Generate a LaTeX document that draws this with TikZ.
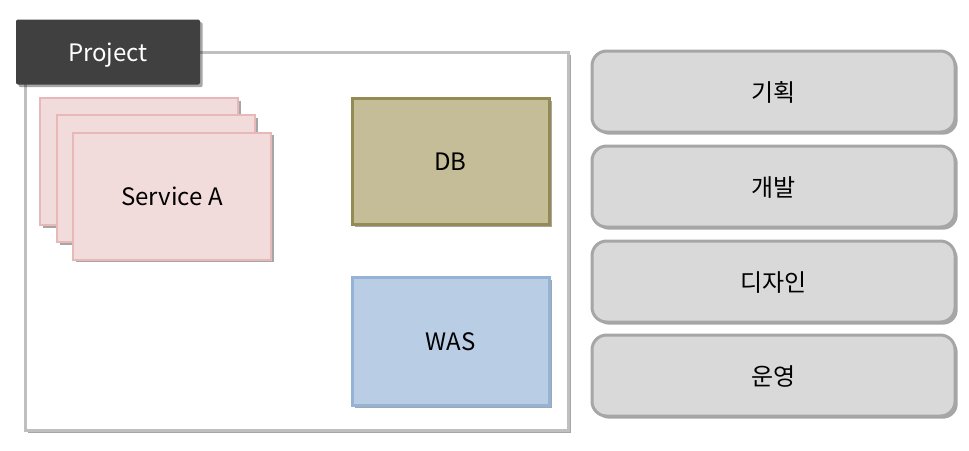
\documentclass[tikz,border=0pt]{standalone}
\usepackage{fontspec}
\setmainfont{Noto Sans CJK KR}
\usepackage{xcolor}
\definecolor{frameGray}{HTML}{BFBFBF}
\definecolor{tagDark}{HTML}{404040}
\definecolor{svcFill}{HTML}{F2DCDB}
\definecolor{svcLine}{HTML}{E6B9B8}
\definecolor{dbFill}{HTML}{C4BD97}
\definecolor{dbLine}{HTML}{948A54}
\definecolor{wasFill}{HTML}{B9CDE5}
\definecolor{wasLine}{HTML}{95B3D7}
\definecolor{roleFill}{HTML}{D9D9D9}
\definecolor{roleLine}{HTML}{A6A6A6}
\usetikzlibrary{shadows}

\tikzset{
  shade/.style={drop shadow={shadow xshift=2pt, shadow yshift=-2pt, opacity=0.35, fill=black}},
  box/.style={rectangle, inner sep=0pt, text depth=0pt, font=\fontsize{18}{20}\selectfont},
  projframe/.style={box, draw=frameGray, line width=2.25pt, fill=white, shade,
    minimum width=543*0.75pt, minimum height=378*0.75pt},
  projtag/.style={box, fill=tagDark, text=white, rounded corners=1.5pt, shade,
    minimum width=184*0.75pt, minimum height=65*0.75pt},
  svcbox/.style={box, draw=svcLine, fill=svcFill, line width=1.5pt, shade,
    minimum width=198*0.75pt, minimum height=127*0.75pt},
  dbbox/.style={box, draw=dbLine, fill=dbFill, line width=2.25pt, shade,
    minimum width=197*0.75pt, minimum height=126*0.75pt},
  wasbox/.style={box, draw=wasLine, fill=wasFill, line width=2.25pt, shade,
    minimum width=197*0.75pt, minimum height=128*0.75pt},
  rolebox/.style={box, draw=roleLine, fill=roleFill, line width=2.25pt, shade,
    rounded corners=11pt, minimum width=363*0.75pt, minimum height=81*0.75pt}
}

\begin{document}
\begin{tikzpicture}[x=0.75pt, y=-0.75pt]
  \useasboundingbox (0,0) rectangle (969,450);
  % ------- project frame and its tag -------
  \node[projframe] (proj) at (296.5,241) {};
  \node[projtag] (tag) at (108,52) {Project};
  % ------- stacked service cards -------
  \node[svcbox] (svc3) at (139,161.5) {};
  \node[svcbox] (svc2) at (156,178.5) {};
  \node[svcbox] (svc1) at (172,196) {Service A};
  % ------- storage / server -------
  \node[dbbox] (db) at (450.5,161.5) {DB};
  \node[wasbox] (was) at (450.5,341.5) {WAS};
  % ------- roles on the right -------
  \foreach \y/\lab/\nm in {91.5/기획/plan,186.5/개발/dev,281.5/디자인/design,375.5/운영/ops} {
    \node[rolebox] (\nm) at (773.5,\y) {\lab};
  }
\end{tikzpicture}
\end{document}
